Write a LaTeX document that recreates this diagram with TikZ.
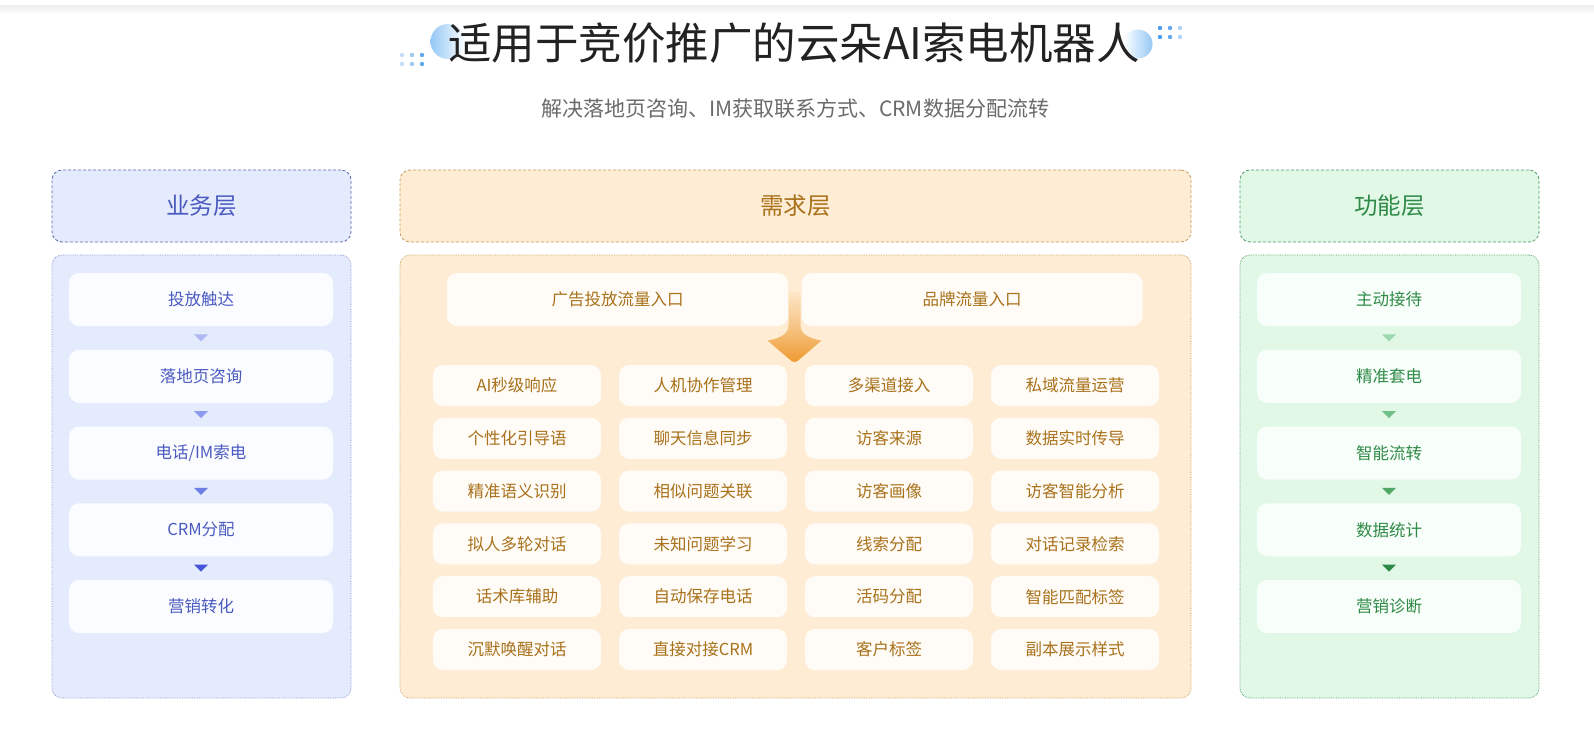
\documentclass[tikz,border=0pt]{standalone}
\usepackage{fontspec}
\setmainfont{Noto Sans CJK SC}
\usetikzlibrary{calc}
\definecolor{titlec}{HTML}{222222}
\definecolor{subc}{HTML}{6B6B6B}
\definecolor{bfill}{HTML}{E4EBFD}
\definecolor{bborder}{HTML}{5C67B0}
\definecolor{bdot}{HTML}{8A93D0}
\definecolor{btext}{HTML}{4B5AC0}
\definecolor{bitem}{HTML}{FAFCFF}
\definecolor{dfill}{HTML}{FEECD4}
\definecolor{dborder}{HTML}{C79D5C}
\definecolor{dtext}{HTML}{A8711A}
\definecolor{ditem}{HTML}{FFFCF8}
\definecolor{gfill}{HTML}{E1F8E6}
\definecolor{gborder}{HTML}{4F9C68}
\definecolor{gtext}{HTML}{2E8A47}
\definecolor{gitem}{HTML}{F8FEF9}
\definecolor{circblue}{HTML}{94C8F6}
\definecolor{bt1}{HTML}{AEB8F2}
\definecolor{bt2}{HTML}{8E9BEE}
\definecolor{bt3}{HTML}{6C7DE6}
\definecolor{bt4}{HTML}{4656D8}
\definecolor{gt1}{HTML}{9ED8AE}
\definecolor{gt2}{HTML}{74C08A}
\definecolor{gt3}{HTML}{4FA866}
\definecolor{gt4}{HTML}{2B8A45}
\definecolor{arrtop}{HTML}{FDE6C8}
\definecolor{arrbot}{HTML}{EE9A30}
\newcommand{\downtri}[3]{%
  \path (#1.south) -- (#2.north) coordinate[pos=0.5] (#1#2m);
  \fill[#3] ($(#1#2m)+(-7,-3.5)$) -- ($(#1#2m)+(7,-3.5)$) -- ($(#1#2m)+(0,3.5)$) -- cycle;}
\tikzset{
  hdr/.style={rectangle, rounded corners=10pt, dash pattern=on 3pt off 2pt, line width=0.8pt,
    minimum height=72pt, inner sep=0pt, font=\fontsize{23.5}{28}\selectfont},
  layer/.style={rectangle, rounded corners=10pt, densely dotted, line width=0.7pt,
    minimum height=443pt, inner sep=0pt},
  item/.style={rectangle, rounded corners=10pt, inner sep=0pt, minimum width=264pt,
    minimum height=53pt, font=\fontsize{16.5}{20}\selectfont},
  entry/.style={rectangle, rounded corners=10pt, inner sep=0pt, minimum width=341pt,
    minimum height=53pt, fill=ditem, text=dtext, font=\fontsize{16.5}{20}\selectfont},
  cell/.style={rectangle, rounded corners=10pt, inner sep=0pt, minimum width=168pt,
    minimum height=41pt, fill=ditem, text=dtext, font=\fontsize{16.5}{20}\selectfont},
  bitemst/.style={item, fill=bitem, text=btext},
  gitemst/.style={item, fill=gitem, text=gtext},
}
\begin{document}
\begin{tikzpicture}[x=1pt,y=-1pt]
\useasboundingbox[fill=white] (0,0) rectangle (1594,744);
\shade[top color=black!7, bottom color=white] (0,5) rectangle (1594,14);

% title decorations
\shade[left color=circblue, right color=white] (448,41.5) circle (17.5);
\shade[left color=white, right color=circblue] (1138,44) circle (14.5);
\foreach \x/\c in {402/C5DDF6, 412/9CC8F2, 422/5FA8EC}{
  \definecolor{dc}{HTML}{\c}
  \fill[dc] (\x,55) circle (2.2); \fill[dc] (\x,64) circle (2.2);}
\foreach \x/\c in {1160/4C9DEB, 1170/62A8EC, 1180/B0D4F5}{
  \definecolor{dc}{HTML}{\c}
  \fill[dc] (\x,28) circle (2.2); \fill[dc] (\x,37) circle (2.2);}

\node[font=\fontsize{43.5}{50}\selectfont, text=titlec] (title) at (794,43) {适用于竞价推广的云朵AI索电机器人};
\node[font=\fontsize{21}{25}\selectfont, text=subc] (sub) at (795,109) {解决落地页咨询、IM获取联系方式、CRM数据分配流转};

% left column
\node[hdr, minimum width=299pt, fill=bfill, draw=bborder, text=btext] (bh) at (201.5,206) {业务层};
\node[layer, minimum width=299pt, fill=bfill, draw=bdot] (bb) at (201.5,476.5) {};
\node[bitemst] (b1) at (201,299.5) {投放触达};
\node[bitemst] (b2) at (201,376.25) {落地页咨询};
\node[bitemst] (b3) at (201,453) {电话/IM索电};
\node[bitemst] (b4) at (201,529.75) {CRM分配};
\node[bitemst] (b5) at (201,606.5) {营销转化};
\downtri{b1}{b2}{bt1}
\downtri{b2}{b3}{bt2}
\downtri{b3}{b4}{bt3}
\downtri{b4}{b5}{bt4}

% middle column
\node[hdr, minimum width=791pt, fill=dfill, draw=dborder, text=dtext] (dh) at (795.5,206) {需求层};
\node[layer, minimum width=791pt, fill=dfill, draw=dborder] (db) at (795.5,476.5) {};
\node[entry] (e1) at (617.5,299.5) {广告投放流量入口};
\node[entry] (e2) at (972,299.5) {品牌流量入口};
\shade[top color=arrtop, bottom color=arrbot, middle color=arrtop!55!arrbot]
  (788.5,292) -- (788.5,325) .. controls (788.5,333) and (782.5,338) .. (767.5,340.5)
  -- (791.5,361) .. controls (793.5,362.5) and (795.5,362.5) .. (797.5,361)
  -- (821.5,340.5) .. controls (806.5,338) and (800.5,333) .. (800.5,325) -- (800.5,292) -- cycle;

\foreach \r/\a/\b/\c/\d [count=\i] in {
  0/AI秒级响应/人机协作管理/多渠道接入/私域流量运营,
  1/个性化引导语/聊天信息同步/访客来源/数据实时传导,
  2/精准语义识别/相似问题关联/访客画像/访客智能分析,
  3/拟人多轮对话/未知问题学习/线索分配/对话记录检索,
  4/话术库辅助/自动保存电话/活码分配/智能匹配标签,
  5/沉默唤醒对话/直接对接CRM/客户标签/副本展示样式}{
  \node[cell] (c\i a) at (517,385.5+52.8*\r) {\a};
  \node[cell] (c\i b) at (703,385.5+52.8*\r) {\b};
  \node[cell] (c\i c) at (889,385.5+52.8*\r) {\c};
  \node[cell] (c\i d) at (1075,385.5+52.8*\r) {\d};
}

% right column
\node[hdr, minimum width=299pt, fill=gfill, draw=gborder, text=gtext] (gh) at (1389.5,206) {功能层};
\node[layer, minimum width=299pt, fill=gfill, draw=gborder] (gb) at (1389.5,476.5) {};
\node[gitemst] (g1) at (1389,299.5) {主动接待};
\node[gitemst] (g2) at (1389,376.25) {精准套电};
\node[gitemst] (g3) at (1389,453) {智能流转};
\node[gitemst] (g4) at (1389,529.75) {数据统计};
\node[gitemst] (g5) at (1389,606.5) {营销诊断};
\downtri{g1}{g2}{gt1}
\downtri{g2}{g3}{gt2}
\downtri{g3}{g4}{gt3}
\downtri{g4}{g5}{gt4}
\end{tikzpicture}
\end{document}
